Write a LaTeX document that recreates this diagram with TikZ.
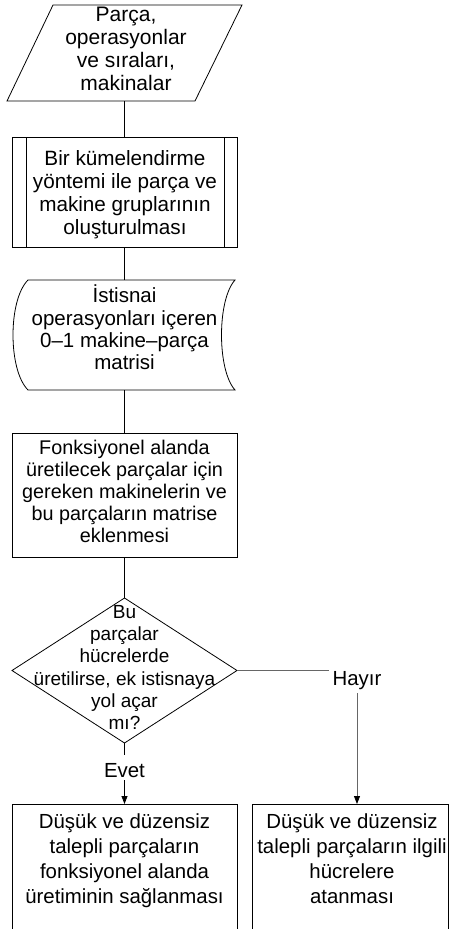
\documentclass[tikz,border=0pt]{standalone}
\usepackage{fontspec}
\setmainfont{Liberation Sans}
\usetikzlibrary{arrows.meta,calc}

\begin{document}
\begin{tikzpicture}[x=1pt,y=-1pt,line width=0.8pt,
  frame/.style={inner sep=0pt,outer sep=0pt},
  txt/.style 2 args={inner sep=0pt,align=center,font=\fontsize{#1}{#2}\selectfont},
  arr/.style={-{Triangle[length=8pt,width=6pt,color=black]}},
  dim/.style={draw=black!60}]
\useasboundingbox (0,0) rectangle (457,929);

% --- frames used as connector anchors ---
\node[frame,minimum width=190pt,minimum height=96pt] (p1) at (124.5,53) {};
\node[frame,draw,minimum width=225pt,minimum height=110pt] (p2) at (124.5,192) {};
\node[frame,minimum width=207pt,minimum height=110pt] (p3) at (124.5,335) {};
\node[frame,draw,minimum width=225pt,minimum height=124pt] (p4) at (124.5,495) {};
\node[frame,minimum width=225pt,minimum height=145pt] (d) at (124.5,670.5) {};
\node[frame,anchor=north,minimum width=225pt,minimum height=125pt] (e) at (124.5,804) {};
\node[frame,anchor=north,minimum width=196pt,minimum height=125pt] (f) at (350,804) {};

% input: parallelogram
\draw (53,5) -- (242,5) -- (195,101) -- (7,101) -- cycle;
% predefined process: inner side bars
\draw ([xshift=14pt]p2.north west) -- ([xshift=14pt]p2.south west);
\draw ([xshift=-13pt]p2.north east) -- ([xshift=-13pt]p2.south east);
% stored data
\draw (28,280) -- (235,280) .. controls (217,300) and (217,370) .. (235,390)
      -- (28,390) .. controls (8,370) and (8,300) .. (28,280) -- cycle;
% decision
\draw (d.north) -- (d.east) -- (d.south) -- (d.west) -- cycle;
% result boxes, open at the bottom
\draw (e.south west) -- (e.north west) -- (e.north east) -- (e.south east);
\draw (f.south west) -- (f.north west) -- (f.north east) -- (f.south east);

% --- texts ---
\node[txt={21}{23}] (t1) at (126,49) {Parça,\\operasyonlar\\ve sıraları,\\makinalar};
\node[txt={20.7}{23}] (t2) at (125,194.2) {Bir kümelendirme\\yöntemi ile parça ve\\makine gruplarının\\oluşturulması};
\node[txt={20.5}{22.3}] (t3) at (124.5,327.5) {İstisnai\\operasyonları içeren\\0–1 makine–parça\\matrisi};
\node[txt={19.8}{22}] (t4) at (124.5,491.7) {Fonksiyonel alanda\\üretilecek parçalar için\\gereken makinelerin ve\\bu parçaların matrise\\eklenmesi};
\node[txt={19}{22.1}] (td) at (124.5,667.5) {Bu\\parçalar\\hücrelerde\\üretilirse, ek istisnaya\\yol açar\\mı?};
\node[txt={20.4}{25}] (te) at (124.5,860.3) {Düşük ve düzensiz\\talepli parçaların\\fonksiyonel alanda\\üretiminin sağlanması};
\node[txt={20.4}{25}] (tf) at (352,858.2) {Düşük ve düzensiz\\talepli parçaların ilgili\\hücrelere\\atanması};

% branch labels
\node[txt={20.4}{24},anchor=base,text height=22pt,text depth=3pt] (yes) at (124.5,777) {Evet};
\node[txt={20.4}{24},anchor=base,inner sep=3.5pt] (no) at (357,685) {Hayır};

% --- connectors ---
\draw (p1.south) -- (p2.north);
\draw (p2.south) -- (p3.north);
\draw (p3.south) -- (p4.north);
\draw (p4.south) -- (d.north);
\draw (d.south) -- (yes.north);
\draw[arr] (yes.south) -- (e.north);
\draw[dim] (d.east) -- (d.east -| no.west);
\draw[dim,arr] (no.south) -- (no.south |- f.north);
\end{tikzpicture}
\end{document}
